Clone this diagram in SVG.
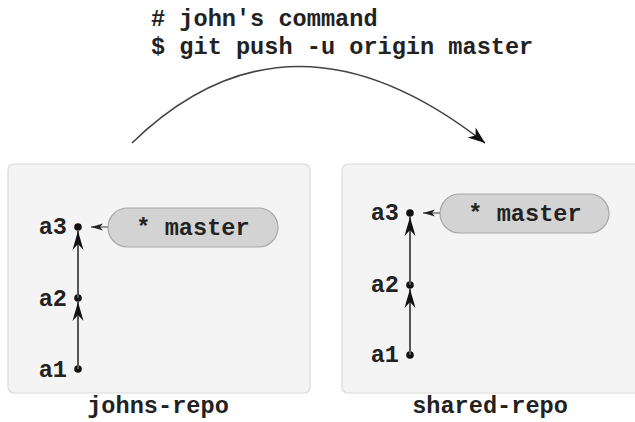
<svg xmlns="http://www.w3.org/2000/svg" width="635" height="422" viewBox="0 0 635 422">
<style>
  text { font-family: "Liberation Mono", "DejaVu Sans Mono", monospace; font-weight: bold; font-size: 23.6px; fill: #222; }
  .repo { fill: #f4f4f4; stroke: #dadada; stroke-width: 1.2; }
  .pill { fill: #d3d3d3; stroke: #a8a8a8; stroke-width: 1.2; }
  .commit { stroke: #555; stroke-width: 2; fill: none; }
  .dot { fill: #111; }
  .ref { stroke: #777; stroke-width: 1.5; fill: none; }
  .arc { stroke: #444; stroke-width: 1.6; fill: none; }
</style>
<defs>
  <marker id="head" markerUnits="userSpaceOnUse" viewBox="-21 -7 22 14" refX="0" refY="0" markerWidth="22" markerHeight="14" orient="auto">
    <path d="M0,0 L-19,-5.5 L-13,0 L-19,5.5 Z" fill="#111"/>
  </marker>
  <marker id="small" markerUnits="userSpaceOnUse" viewBox="-13 -4 14 8" refX="0" refY="0" markerWidth="14" markerHeight="8" orient="auto">
    <path d="M0,0 L-12,-3.5 L-9,0 L-12,3.5 Z" fill="#222"/>
  </marker>
  <marker id="big" markerUnits="userSpaceOnUse" viewBox="-18 -8 19 16" refX="0" refY="0" markerWidth="19" markerHeight="16" orient="auto">
    <path d="M0,0 L-17,-6.5 L-12,0 L-17,6.5 Z" fill="#111"/>
  </marker>
</defs>

<g id="command">
  <text x="151" y="26"># john's command</text>
  <text x="151" y="54">$ git push -u origin master</text>
</g>

<g id="johns-repo">
  <rect class="repo" x="8" y="164" width="302" height="229" rx="6"/>
  <text x="158" y="413" text-anchor="middle">johns-repo</text>
</g>

<g id="shared-repo">
  <rect class="repo" x="342" y="164" width="300" height="229" rx="6"/>
  <text x="490" y="413" text-anchor="middle">shared-repo</text>
</g>

<g id="johns-master">
  <rect class="pill" x="108" y="208" width="170" height="39" rx="19.5"/>
  <text x="193" y="235" text-anchor="middle">* master</text>
</g>

<g id="shared-master">
  <rect class="pill" x="440" y="194" width="169" height="39" rx="19.5"/>
  <text x="525" y="221" text-anchor="middle">* master</text>
</g>

<g id="johns-a1"><circle class="dot" cx="78" cy="369" r="3.8"/><text x="67" y="377" text-anchor="end">a1</text></g>
<g id="johns-a2"><circle class="dot" cx="78" cy="298" r="3.8"/><text x="67" y="306" text-anchor="end">a2</text></g>
<g id="johns-a3"><circle class="dot" cx="78" cy="227" r="3.8"/><text x="67" y="234" text-anchor="end">a3</text></g>

<g id="shared-a1"><circle class="dot" cx="410" cy="355" r="3.8"/><text x="399" y="362" text-anchor="end">a1</text></g>
<g id="shared-a2"><circle class="dot" cx="410" cy="285" r="3.8"/><text x="399" y="292" text-anchor="end">a2</text></g>
<g id="shared-a3"><circle class="dot" cx="410" cy="213" r="3.8"/><text x="399" y="220" text-anchor="end">a3</text></g>

<g id="connectors">
  <path class="arc" d="M132,143 Q290,-10 485,143" marker-end="url(#big)"/>
  <line class="commit" x1="78" y1="369" x2="78" y2="302" marker-end="url(#head)"/>
  <line class="commit" x1="78" y1="298" x2="78" y2="231" marker-end="url(#head)"/>
  <line class="ref" x1="108" y1="227" x2="91" y2="227" marker-end="url(#small)"/>
  <line class="commit" x1="410" y1="355" x2="410" y2="289" marker-end="url(#head)"/>
  <line class="commit" x1="410" y1="285" x2="410" y2="217" marker-end="url(#head)"/>
  <line class="ref" x1="440" y1="213" x2="423" y2="213" marker-end="url(#small)"/>
</g>
</svg>
